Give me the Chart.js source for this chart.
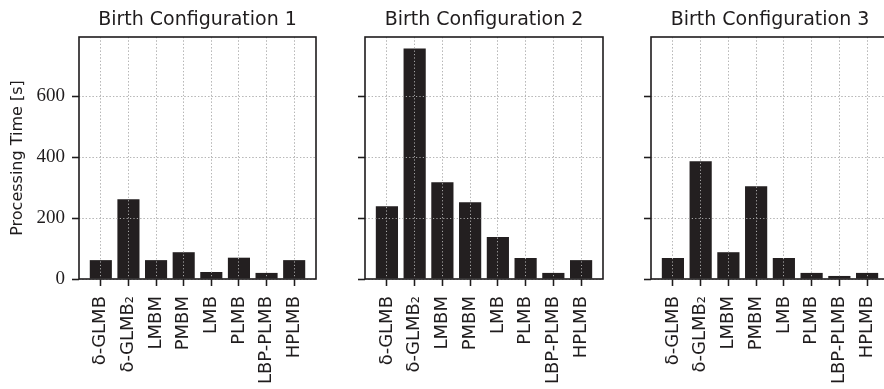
<!DOCTYPE html>
<html>
<head>
<meta charset="utf-8">
<script src="https://cdn.jsdelivr.net/npm/chart.js@4/dist/chart.umd.min.js"></script>
<style>
  html, body { margin: 0; padding: 0; background: #fff; overflow: hidden; }
  body { width: 884px; height: 389px; position: relative; }
  canvas { position: absolute; top: 0; }
</style>
</head>
<body>
<canvas id="panel-1" width="330" height="389" style="left:0px"></canvas>
<canvas id="panel-2" width="290" height="389" style="left:330px"></canvas>
<canvas id="panel-3" width="290" height="389" style="left:620px"></canvas>
<script>
var methods = ['\u03b4-GLMB', '\u03b4-GLMB\u2082', 'LMBM', 'PMBM', 'LMB', 'PLMB', 'LBP-PLMB', 'HPLMB'];
var titles = ['Birth Configuration 1', 'Birth Configuration 2', 'Birth Configuration 3'];
var config1Times = [62, 262, 62, 88, 23, 70, 20, 62];
var config2Times = [239, 757, 318, 252, 138, 69, 20, 62];
var config3Times = [69, 387, 88, 305, 69, 20, 10, 20];
var yTickValues = [0, 200, 400, 600];
var yMax = 795;

(function () {
  var ink = '#1f1c1d';
  var barColor = '#231f20';
  var gridColor = '#b4b4b4';

  // grid on top of the bars plus a full frame, like the matplotlib original
  var gridOnTop = {
    id: 'gridOnTop',
    afterDatasetsDraw: function (chart) {
      var area = chart.chartArea;
      chart.scales.x.drawGrid(area);
      chart.scales.y.drawGrid(area);
      var ctx = chart.ctx;
      ctx.save();
      ctx.strokeStyle = ink;
      ctx.lineWidth = 1.6;
      ctx.strokeRect(area.left, area.top, area.right - area.left, area.bottom - area.top);
      ctx.restore();
    }
  };

  function gridOpts() {
    return {
      offset: false,
      color: gridColor,
      lineWidth: 0.9,
      tickColor: ink,
      tickWidth: 1.3,
      tickLength: 7,
      tickBorderDash: []
    };
  }

  function buildPanel(canvasId, title, values, opts) {
    var points = values.map(function (v, i) {
      return { x: i, y: v };
    });

    new Chart(document.getElementById(canvasId).getContext('2d'), {
      type: 'bar',
      data: {
        datasets: [
          {
            data: points,
            backgroundColor: barColor,
            borderWidth: 0,
            categoryPercentage: 1,
            barPercentage: 0.8
          }
        ]
      },
      plugins: [gridOnTop],
      options: {
        responsive: false,
        animation: false,
        layout: { padding: { left: 0, right: opts.padRight, top: 0, bottom: 0 } },
        plugins: {
          legend: { display: false },
          tooltip: { enabled: false },
          title: {
            display: true,
            text: title,
            fullSize: false,
            color: ink,
            font: { family: "'DejaVu Sans', sans-serif", size: 19, weight: 'normal', lineHeight: 1.2 },
            padding: { top: 9, bottom: 5.2 }
          }
        },
        scales: {
          x: {
            type: 'linear',
            min: -0.79,
            max: 7.79,
            offset: false,
            border: { display: false, dash: [1.2, 2.2] },
            grid: gridOpts(),
            afterBuildTicks: function (axis) {
              axis.ticks = methods.map(function (m, i) {
                return { value: i };
              });
            },
            afterFit: function (scale) {
              scale.height = 110;
              scale.paddingLeft = 0;
              scale.paddingRight = 0;
            },
            ticks: {
              autoSkip: false,
              minRotation: 90,
              maxRotation: 90,
              padding: 10,
              color: ink,
              font: { family: "'DejaVu Sans', sans-serif", size: 18 },
              callback: function (value) {
                return methods[value];
              }
            }
          },
          y: {
            min: 0,
            max: yMax,
            border: { display: false, dash: [1.2, 2.2] },
            grid: gridOpts(),
            afterBuildTicks: function (axis) {
              axis.ticks = yTickValues.map(function (v) {
                return { value: v };
              });
            },
            afterFit: function (scale) {
              scale.width = opts.axisWidth;
              scale.paddingTop = 0;
              scale.paddingBottom = 0;
            },
            ticks: {
              padding: 7,
              color: ink,
              font: { family: "'Liberation Serif', serif", size: 19 },
              callback: function (value) {
                return opts.showTickLabels ? String(value) : '';
              }
            },
            title: {
              display: opts.showTitle,
              text: 'Processing Time [s]',
              color: ink,
              font: { family: "'DejaVu Sans', sans-serif", size: 16, lineHeight: 1.2 },
              padding: { top: 8.5, bottom: 0 }
            }
          }
        }
      }
    });
  }

  function init() {
    buildPanel('panel-1', titles[0], config1Times, { axisWidth: 79, padRight: 14, showTickLabels: true, showTitle: true });
    buildPanel('panel-2', titles[1], config2Times, { axisWidth: 35, padRight: 17, showTickLabels: false, showTitle: false });
    buildPanel('panel-3', titles[2], config3Times, { axisWidth: 31, padRight: 21, showTickLabels: false, showTitle: false });
  }

  init();
})();
</script>
</body>
</html>
